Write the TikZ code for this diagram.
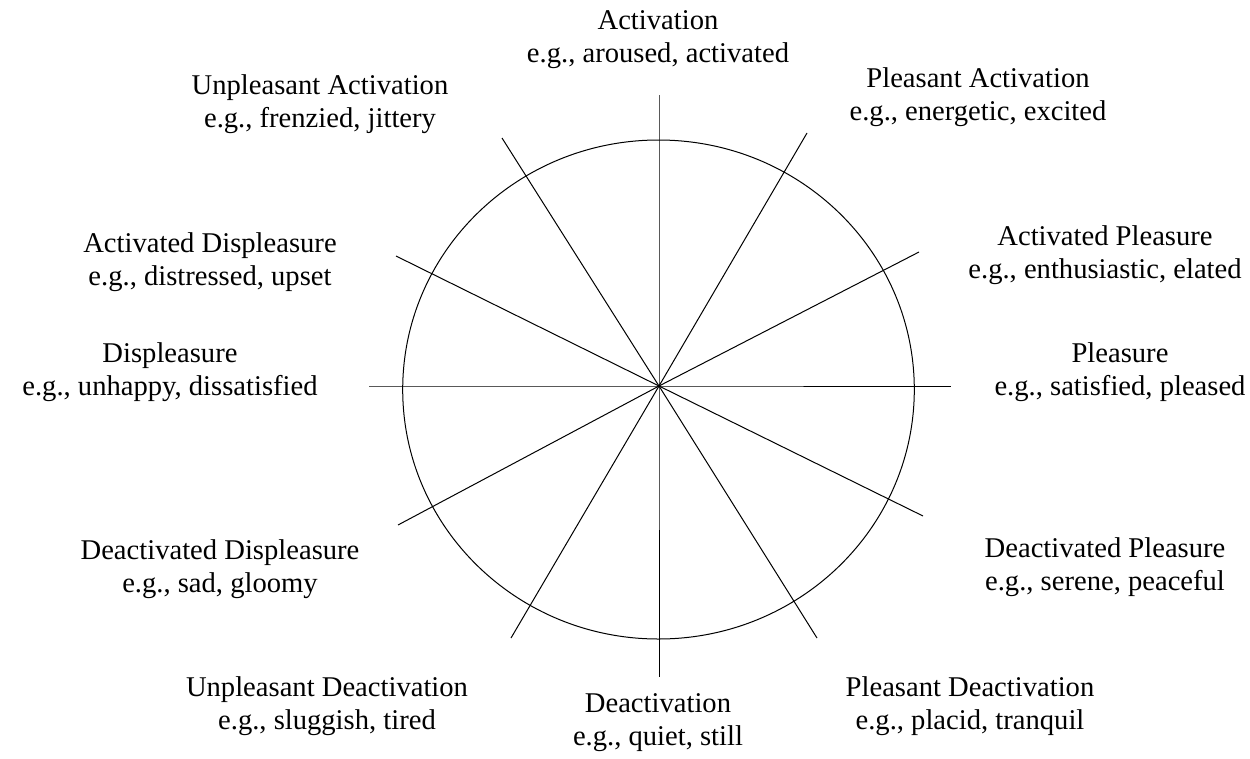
\documentclass[tikz,border=0pt]{standalone}
\usepackage{fontspec}
\setmainfont{Liberation Serif}
\begin{document}
\begin{tikzpicture}[x=1pt,y=-1pt,
  axis/.style={line width=1pt,black},
  lbl/.style={align=center,anchor=base,inner sep=0pt,
    font=\fontsize{28.6}{33}\selectfont}]
\useasboundingbox (0,0) rectangle (1250,758);
% circle and the six axes through its centre
\draw[axis] (658.5,389.5) ellipse [x radius=255.8, y radius=249.5];
\coordinate (C) at (659,386);
\draw[axis] (659,95) -- (C) -- (659,677);
\draw[axis] (369,386) -- (C) -- (951,386);
\draw[axis] (807,133) -- (C) -- (511,638);
\draw[axis] (502,138) -- (C) -- (817,638);
\draw[axis] (919,252) -- (C) -- (398,525);
\draw[axis] (396,256) -- (C) -- (923,516);
% labels (anchored at the baseline of the second line)
\node[lbl] (act) at (658,62) {Activation\\e.g., aroused, activated};
\node[lbl] (uact) at (320,127) {Unpleasant Activation\\e.g., frenzied, jittery};
\node[lbl] (pact) at (978,120) {Pleasant Activation\\e.g., energetic, excited};
\node[lbl] (adis) at (210,285) {Activated Displeasure\\e.g., distressed, upset};
\node[lbl] (aple) at (1105,278) {Activated Pleasure\\e.g., enthusiastic, elated};
\node[lbl] (dis) at (170,395) {Displeasure\\e.g., unhappy, dissatisfied};
\node[lbl] (ple) at (1120,395) {Pleasure\\e.g., satisfied, pleased};
\node[lbl] (ddis) at (220,592) {Deactivated Displeasure\\e.g., sad, gloomy};
\node[lbl] (dple) at (1105,590) {Deactivated Pleasure\\e.g., serene, peaceful};
\node[lbl] (udeact) at (327,729) {Unpleasant Deactivation\\e.g., sluggish, tired};
\node[lbl] (deact) at (658,745) {Deactivation\\e.g., quiet, still};
\node[lbl] (pdeact) at (970,729) {Pleasant Deactivation\\e.g., placid, tranquil};
\end{tikzpicture}
\end{document}
